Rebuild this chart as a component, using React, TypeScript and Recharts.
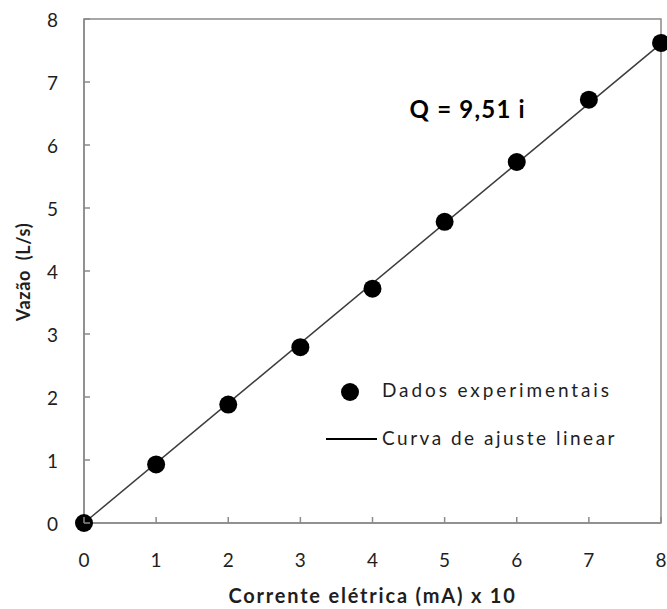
import {
  ScatterChart,
  Scatter,
  XAxis,
  YAxis,
  ReferenceArea,
  ReferenceDot,
  Label,
} from 'recharts';

// Corrente (mA x 10) vs vazão medida (L/s)
const currentValues = [0, 1, 2, 3, 4, 5, 6, 7, 8];
const flowValues = [0, 0.93, 1.88, 2.79, 3.72, 4.78, 5.73, 6.72, 7.62];

// Reta ajustada Q = 9,51 i
const fitCurrent = [0, 8];
const fitFlow = [0, 7.61];

const currentTicks = [0, 1, 2, 3, 4, 5, 6, 7, 8];
const flowTicks = [0, 1, 2, 3, 4, 5, 6, 7, 8];

const xTitle = 'Corrente elétrica (mA) x 10';
const yTitle = 'Vazão\u00a0 (L/s)';
const equation = 'Q = 9,51 i';
const legendDots = 'Dados experimentais';
const legendLine = 'Curva de ajuste linear';

const FONT = 'Lato, "Open Sans", sans-serif';
const AXIS = '#8a8a8a';
const TEXT = '#1e1e1e';

// plot frame (px)
const PLOT_LEFT = 84;
const PLOT_BOTTOM = 523;
const TICK_LEN = 6;

const measured = currentValues.map((x, i) => ({ x, y: flowValues[i] }));
const fitted = fitCurrent.map((x, i) => ({ x, y: fitFlow[i] }));

// ticks point into the plot, labels sit outside
function XTick(props: any) {
  const { x, payload } = props;
  return (
    <g>
      <line x1={x} x2={x} y1={PLOT_BOTTOM} y2={PLOT_BOTTOM - TICK_LEN} stroke={AXIS} strokeWidth={1.5} />
      <text x={x} y={567} textAnchor="middle" fill={TEXT} fontSize={19} fontFamily={FONT}>
        {payload.value}
      </text>
    </g>
  );
}

function YTick(props: any) {
  const { y, payload } = props;
  return (
    <g>
      <line x1={PLOT_LEFT} x2={PLOT_LEFT + TICK_LEN} y1={y} y2={y} stroke={AXIS} strokeWidth={1.5} />
      <text x={58} y={y} textAnchor="end" dominantBaseline="central" fill={TEXT} fontSize={19} fontFamily={FONT}>
        {payload.value}
      </text>
    </g>
  );
}

export default function App() {
  return (
    <div style={{ position: 'absolute', left: 0, top: 0, width: 667, height: 609, background: '#fff' }}>
      <ScatterChart width={667} height={609} margin={{ top: 19, right: 6, bottom: 0, left: 0 }}>
        <XAxis
          type="number"
          dataKey="x"
          domain={[0, 8]}
          ticks={currentTicks}
          height={86}
          tickLine={false}
          tick={<XTick />}
          axisLine={{ stroke: AXIS, strokeWidth: 1.5 }}
        >
          <Label
            content={() => (
              <text
                x={372.5}
                y={603}
                textAnchor="middle"
                fontFamily={FONT}
                fontWeight="bold"
                fontSize={20}
                letterSpacing={1.8}
                fill={TEXT}
              >
                {xTitle}
              </text>
            )}
          />
        </XAxis>
        <YAxis
          type="number"
          dataKey="y"
          domain={[0, 8]}
          ticks={flowTicks}
          width={84}
          tickLine={false}
          tick={<YTick />}
          axisLine={{ stroke: AXIS, strokeWidth: 1.5 }}
        >
          <Label
            content={() => (
              <text
                x={23}
                y={272}
                transform="rotate(-90 23 272)"
                textAnchor="middle"
                dominantBaseline="central"
                fontFamily={FONT}
                fontWeight="bold"
                fontSize={18}
                letterSpacing={0.6}
                fill={TEXT}
                style={{ whiteSpace: 'pre' }}
              >
                {yTitle}
              </text>
            )}
          />
        </YAxis>
        <ReferenceArea x1={0} x2={8} y1={0} y2={8} fill="none" stroke={AXIS} strokeWidth={1.5} />
        <Scatter
          data={fitted}
          line={{ stroke: '#3c3c3c', strokeWidth: 1.5 }}
          shape={() => <g />}
          isAnimationActive={false}
        />
        <Scatter
          data={measured}
          shape={(p: any) => <circle cx={p.cx} cy={p.cy} r={9} fill="#000" />}
          isAnimationActive={false}
        />
        <ReferenceDot x={5.32} y={6.56} r={0} fill="none" stroke="none">
          <Label
            value={equation}
            position="center"
            style={{ fontFamily: FONT, fontWeight: 'bold', fontSize: 24, letterSpacing: 1.2, fill: '#000' }}
          />
        </ReferenceDot>
      </ScatterChart>

      <div style={{ position: 'absolute', left: 0, top: 0, fontFamily: FONT, fontSize: 19, color: TEXT }}>
        <div style={{ position: 'absolute', left: 341, top: 383, width: 18, height: 18, borderRadius: '50%', background: '#000' }} />
        <div style={{ position: 'absolute', left: 382, top: 379, lineHeight: '22px', whiteSpace: 'nowrap', letterSpacing: 2.9 }}>
          {legendDots}
        </div>
        <div style={{ position: 'absolute', left: 326, top: 438, width: 51, height: 2, background: '#000' }} />
        <div style={{ position: 'absolute', left: 382, top: 427, lineHeight: '22px', whiteSpace: 'nowrap', letterSpacing: 2.5 }}>
          {legendLine}
        </div>
      </div>
    </div>
  );
}
